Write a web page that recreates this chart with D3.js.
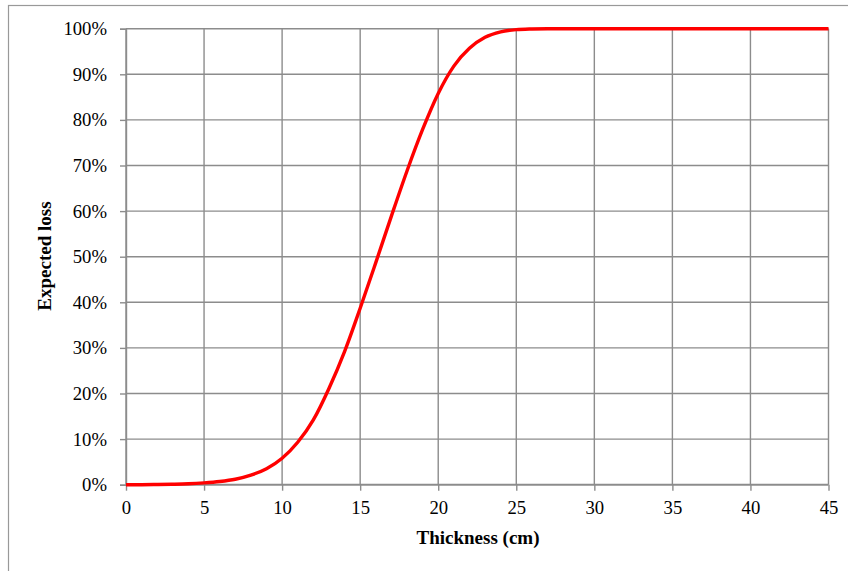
<!DOCTYPE html>
<html>
<head>
<meta charset="utf-8">
<script src="https://cdn.jsdelivr.net/npm/d3@7"></script>
<style>
  html, body { margin: 0; padding: 0; background: #fff; }
  svg { display: block; }
</style>
</head>
<body>
<svg id="chart" width="848" height="571"></svg>
<script>
// Data
const thickness = [0,1,2,3,4,5,6,7,8,9,10,11,12,13,14,15,16,17,18,19,20,21,22,23,24,25,26,27,28,29,30,31,32,33,34,35,36,37,38,39,40,41,42,43,44,45];
const expectedLoss = [0,0,0.0004,0.001,0.002,0.004,0.007,0.012,0.021,0.035,0.058,0.093,0.142,0.211,0.292,0.387,0.487,0.589,0.688,0.779,0.858,0.918,0.957,0.981,0.993,0.998,0.9995,1,1,1,1,1,1,1,1,1,1,1,1,1,1,1,1,1,1,1];
const xTicks = [0,5,10,15,20,25,30,35,40,45];
const yTicks = [0,0.1,0.2,0.3,0.4,0.5,0.6,0.7,0.8,0.9,1.0];
const xTitle = "Thickness (cm)";
const yTitle = "Expected loss";

const svg = d3.select("#chart");
const L = 126, R = 828.5, T = 28.7, B = 484.7;
const x = d3.scaleLinear().domain([0,45]).range([L,R]);
const y = d3.scaleLinear().domain([0,1]).range([B,T]);
const gridColor = "#8c8c8c";
const font = "'Liberation Serif', 'Times New Roman', serif";

// outer frame
svg.append("rect").attr("x",8.5).attr("y",5.5).attr("width",860).attr("height",600)
  .attr("fill","none").attr("stroke","#999").attr("stroke-width",1.2);

// horizontal gridlines
svg.append("g").selectAll("line").data(yTicks).join("line")
  .attr("x1", L).attr("x2", R)
  .attr("y1", d => y(d)).attr("y2", d => y(d))
  .attr("stroke", gridColor).attr("stroke-width", d => d === 0 ? 2 : 1.4);

// vertical gridlines
svg.append("g").selectAll("line").data(xTicks).join("line")
  .attr("x1", d => x(d)).attr("x2", d => x(d))
  .attr("y1", T).attr("y2", B)
  .attr("stroke", gridColor).attr("stroke-width", 1.4);

// y axis (ticks + labels)
const yAxis = d3.axisLeft(y).tickValues(yTicks).tickFormat(d3.format(".0%")).tickSize(6).tickPadding(13);
const gy = svg.append("g").attr("transform", `translate(${L},0)`).call(yAxis);
gy.select(".domain").attr("stroke", gridColor).attr("stroke-width",1.4);
gy.selectAll(".tick line").attr("stroke", gridColor).attr("stroke-width",1.4);
gy.selectAll(".tick text").attr("font-family", font).attr("font-size", "18.7px").attr("fill","#000");

// x axis
const xAxis = d3.axisBottom(x).tickValues(xTicks).tickFormat(d3.format("d")).tickSize(6).tickPadding(10);
const gx = svg.append("g").attr("transform", `translate(0,${B})`).call(xAxis);
gx.select(".domain").remove();
gx.selectAll(".tick line").attr("stroke", gridColor).attr("stroke-width",1.4);
gx.selectAll(".tick text").attr("font-family", font).attr("font-size", "18.7px").attr("fill","#000");

// curve
const line = d3.line().x((d,i) => x(thickness[i])).y(d => y(d)).curve(d3.curveMonotoneX);
svg.append("path").datum(expectedLoss).attr("d", line)
  .attr("fill","none").attr("stroke","#ff0000").attr("stroke-width",3.4)
  .attr("stroke-linejoin","round").attr("stroke-linecap","butt");

// titles
svg.append("text").attr("x", 478).attr("y", 544).attr("text-anchor","middle")
  .attr("font-family", font).attr("font-weight","bold").attr("font-size","19px").text(xTitle);
svg.append("text").attr("transform","translate(51,256) rotate(-90)").attr("text-anchor","middle")
  .attr("font-family", font).attr("font-weight","bold").attr("font-size","19px").text(yTitle);
</script>
</body>
</html>
